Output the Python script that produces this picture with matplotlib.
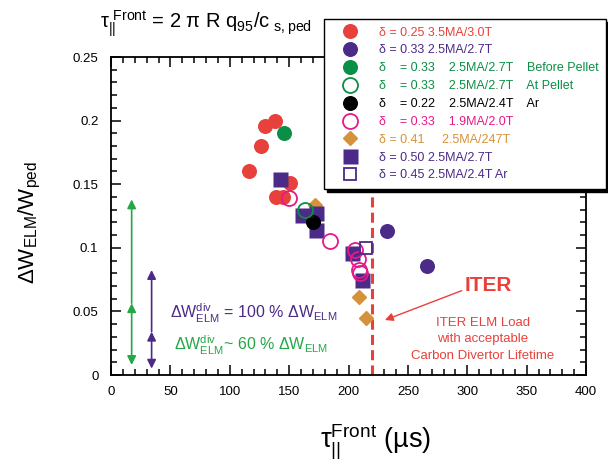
import matplotlib
matplotlib.use("Agg")
import matplotlib.pyplot as plt
from matplotlib.lines import Line2D

plt.rcParams['font.family'] = ['Liberation Sans', 'DejaVu Sans']
plt.rcParams['mathtext.default'] = 'regular'

# --- data ---
red_x = [116, 126, 130, 138, 151, 139, 145]
red_y = [0.160, 0.180, 0.196, 0.200, 0.151, 0.140, 0.140]
pc_x = [232, 266]
pc_y = [0.1135, 0.0857]
gf_x = [146]
gf_y = [0.190]
go_x = [163]
go_y = [0.130]
blk_x = [170]
blk_y = [0.120]
pink_x = [150, 184, 205.5, 208, 209, 210]
pink_y = [0.139, 0.105, 0.098, 0.091, 0.0825, 0.080]
dia_x = [172, 209, 215]
dia_y = [0.134, 0.061, 0.045]
sq_x = [142.6, 160.6, 173, 172.6, 202.7, 211.6]
sq_y = [0.154, 0.126, 0.127, 0.114, 0.096, 0.0747]
osq_x = [214.5]
osq_y = [0.100]

iter_x = 219.5

labels = [
    "δ = 0.25 3.5MA/3.0T",
    "δ = 0.33 2.5MA/2.7T",
    "δ    = 0.33    2.5MA/2.7T    Before Pellet",
    "δ    = 0.33    2.5MA/2.7T    At Pellet",
    "δ    = 0.22    2.5MA/2.4T    Ar",
    "δ    = 0.33    1.9MA/2.0T",
    "δ = 0.41     2.5MA/247T",
    "δ = 0.50 2.5MA/2.7T",
    "δ = 0.45 2.5MA/2.4T Ar",
]

xticks = [0, 50, 100, 150, 200, 250, 300, 350, 400]
yticks = [0, 0.05, 0.1, 0.15, 0.2, 0.25]
ytick_labels = ["0", "0.05", "0.1", "0.15", "0.2", "0.25"]

RED = "#E8413C"
PUR = "#4B2A88"
GRN = "#0B8E45"
PINK = "#E6198A"
ORG = "#D6923B"
LGRN = "#22A845"

fig = plt.figure(figsize=(6.08, 4.63), dpi=100)
ax = fig.add_axes([111/608, 1-375/463, 475/608, 318/463])

ms = 10.8
ax.plot(dia_x, dia_y, 'D', color=ORG, ms=7, ls='none', zorder=3)
ax.plot(red_x, red_y, 'o', color=RED, ms=ms, ls='none', mec='none', zorder=3)
ax.plot(sq_x, sq_y, 's', color=PUR, ms=ms, ls='none', mec='none', zorder=4)
ax.plot(pc_x, pc_y, 'o', color=PUR, ms=ms, ls='none', mec='none', zorder=4)
ax.plot(gf_x, gf_y, 'o', color=GRN, ms=ms, ls='none', mec='none', zorder=4)
ax.plot(blk_x, blk_y, 'o', color='k', ms=ms, ls='none', mec='none', zorder=5)
ax.plot(go_x, go_y, 'o', mfc='none', mec=GRN, mew=1.3, ms=ms, ls='none', zorder=5)
ax.plot(pink_x, pink_y, 'o', mfc='none', mec=PINK, mew=1.3, ms=ms, ls='none', zorder=5)
ax.plot(osq_x, osq_y, 's', mfc='none', mec=PUR, mew=1.3, ms=ms - 1.5, ls='none', zorder=5)

ax.axvline(iter_x, color=RED, lw=2.2, ls=(0, (3.3, 1.7)), zorder=2)

ax.set_xlim(0, 400)
ax.set_ylim(0, 0.25)
ax.set_xticks(xticks)
ax.set_xticklabels([str(t) for t in xticks])
ax.set_yticks(yticks)
ax.set_yticklabels(ytick_labels)
ax.set_xticks(range(0, 401, 10), minor=True)
ax.set_yticks([i * 0.01 for i in range(26)], minor=True)
ax.tick_params(which='both', direction='in', top=True, right=True, width=1.1)
ax.tick_params(which='major', length=7, labelsize=9.5)
ax.tick_params(axis='y', which='major', pad=9)
ax.tick_params(axis='x', which='major', pad=8)
ax.tick_params(which='minor', length=4)
for s in ax.spines.values():
    s.set_linewidth(1.3)

# double arrows
def arrow(x, y0, y1, color, style):
    ax.annotate('', xy=(x, y1), xytext=(x, y0),
                arrowprops=dict(arrowstyle=style, color=color, lw=1.2,
                                mutation_scale=13, shrinkA=0, shrinkB=0))

arrow(17.4, 0.0564, 0.138, LGRN, '-|>')
arrow(17.4, 0.0079, 0.0564, LGRN, '<|-|>')
arrow(34.2, 0.034, 0.0825, PUR, '-|>')
arrow(34.2, 0.005, 0.034, PUR, '<|-|>')

ax.text(49.7, 0.0487, 'ΔW$^{div}_{ELM}$ = 100 % ΔW$_{ELM}$', color=PUR,
        fontsize=11.5, va='center', ha='left')
ax.text(53, 0.0236, 'ΔW$^{div}_{ELM}$~ 60 % ΔW$_{ELM}$', color=LGRN,
        fontsize=11.5, va='center', ha='left')

ax.text(317.5, 0.070, 'ITER', color=RED, fontsize=15, fontweight='bold',
        ha='center', va='center')
for txt, yy in [("ITER ELM Load", 0.0406), ("with acceptable", 0.028),
                ("Carbon Divertor Lifetime", 0.015)]:
    ax.text(313, yy, txt, color=RED, fontsize=9.5, ha='center', va='center')
ax.annotate('', xy=(230.7, 0.0432), xytext=(295.3, 0.0663),
            arrowprops=dict(arrowstyle='-|>', color=RED, lw=1.0,
                            mutation_scale=12, shrinkA=0, shrinkB=0))

# legend
handles = [
    Line2D([], [], marker='o', color=RED, ls='none', ms=ms, mec='none'),
    Line2D([], [], marker='o', color=PUR, ls='none', ms=ms, mec='none'),
    Line2D([], [], marker='o', color=GRN, ls='none', ms=ms, mec='none'),
    Line2D([], [], marker='o', mfc='none', mec=GRN, mew=1.3, ls='none', ms=ms),
    Line2D([], [], marker='o', color='k', ls='none', ms=ms, mec='none'),
    Line2D([], [], marker='o', mfc='none', mec=PINK, mew=1.3, ls='none', ms=ms),
    Line2D([], [], marker='D', color=ORG, ls='none', ms=7),
    Line2D([], [], marker='s', color=PUR, ls='none', ms=ms, mec='none'),
    Line2D([], [], marker='s', mfc='none', mec=PUR, mew=1.3, ls='none', ms=ms - 1.5),
]
colors = [RED, PUR, GRN, GRN, 'k', PINK, ORG, PUR, PUR]
leg = fig.legend(handles, labels, loc='upper left',
                 bbox_to_anchor=(324/608, 1-19/463), borderaxespad=0,
                 fontsize=9, borderpad=0.6, handlelength=3, handletextpad=0.8,
                 labelspacing=0.47, fancybox=False, framealpha=1,
                 shadow={'color': 'black', 'alpha': 1})
leg.get_frame().set_edgecolor('k')
leg.get_frame().set_linewidth(1.0)
for t, c in zip(leg.get_texts(), colors):
    t.set_color(c)

fig.text(100/608, 1-28/463,
         'τ$_{||}^{\\ Front}$ = 2 π R q$_{95}$/c$_{\\ s,ped}$',
         fontsize=14.5, ha='left', va='baseline')
fig.text(30/608, 1-223/463, 'ΔW$_{ELM}$/W$_{ped}$', fontsize=16,
         rotation=90, ha='center', va='center')
fig.text(376/608, 1-442/463, 'τ$_{||}^{Front}$ (µs)', fontsize=19.5,
         ha='center', va='center')

fig.savefig('out.png', dpi=100)
